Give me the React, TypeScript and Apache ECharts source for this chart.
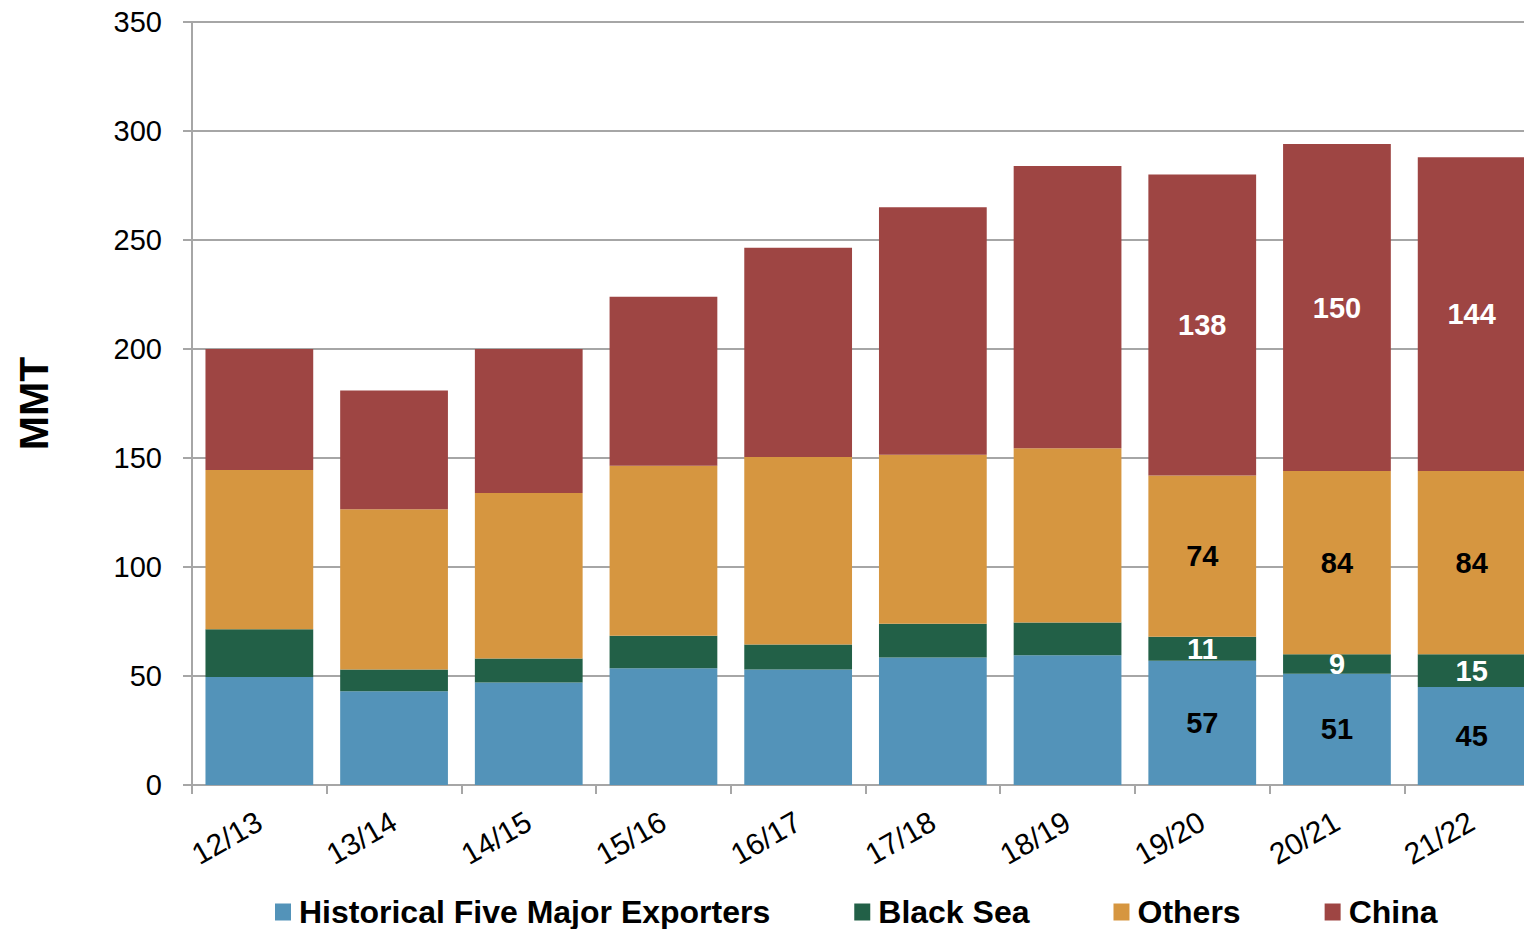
import React, { useEffect, useRef } from "react";
import * as echarts from "echarts";

const categories = ["12/13", "13/14", "14/15", "15/16", "16/17", "17/18", "18/19", "19/20", "20/21", "21/22"];
const historicalFive = [49.5, 43, 47, 53.5, 53, 58.5, 59.5, 57, 51, 45];
const blackSea = [22, 10, 11, 15, 11.5, 15.5, 15, 11, 9, 15];
const others = [73, 73.5, 76, 78, 86, 77.5, 80, 74, 84, 84];
const china = [55.5, 54.5, 66, 77.5, 96, 113.5, 129.5, 138, 150, 144];
const labelledSeasons = ["19/20", "20/21", "21/22"];
const yTicks = { min: 0, max: 350, interval: 50 };

const NARROW = "'Liberation Sans Narrow', 'Arial Narrow', 'Liberation Sans', Arial, sans-serif";
const ARIAL = "'Liberation Sans', Arial, sans-serif";

function makeSeries(name: string, values: number[], color: string, labelColor: string) {
  return {
    name,
    type: "bar",
    stack: "total",
    barWidth: "80%",
    itemStyle: { color },
    label: {
      show: false,
      position: "inside",
      color: labelColor,
      fontFamily: NARROW,
      fontWeight: "bold",
      fontSize: 29,
      formatter: (p: any) => String(Math.round(p.value)),
    },
    data: values.map((v, i) => ({
      value: v,
      label: { show: labelledSeasons.includes(categories[i]) },
    })),
  };
}

export default function App() {
  const ref = useRef<HTMLDivElement>(null);
  useEffect(() => {
    if (!ref.current) return;
    const chart = echarts.init(ref.current, undefined, { renderer: "svg" });
    chart.setOption({
      animation: false,
      backgroundColor: "#ffffff",
      grid: {
        left: 192,
        right: -15,
        top: 22,
        bottom: 144,
        containLabel: false,
        outerBoundsMode: "none",
      },
      legend: {
        left: 275,
        top: 896,
        padding: 0,
        itemWidth: 16,
        itemHeight: 17,
        itemGap: 84,
        icon: "rect",
        textStyle: {
          fontFamily: ARIAL,
          fontWeight: "bold",
          fontSize: 32,
          color: "#000",
          padding: [0, 0, 0, 3],
        },
        data: ["Historical Five Major Exporters", "Black Sea", "Others", "China"],
      },
      xAxis: {
        type: "category",
        data: categories,
        axisLine: { lineStyle: { color: "#a6a6a6", width: 2 } },
        axisTick: { show: true, length: 9, lineStyle: { color: "#a6a6a6", width: 2 } },
        axisLabel: {
          rotate: 30,
          margin: 34,
          fontFamily: ARIAL,
          fontSize: 30,
          color: "#000",
          interval: 0,
        },
      },
      yAxis: {
        type: "value",
        min: yTicks.min,
        max: yTicks.max,
        interval: yTicks.interval,
        name: "MMT",
        nameLocation: "middle",
        nameRotate: 90,
        nameGap: 138,
        nameTextStyle: { fontFamily: ARIAL, fontWeight: "bold", fontSize: 41, color: "#000" },
        axisLine: { show: true, lineStyle: { color: "#a6a6a6", width: 2 } },
        axisTick: { show: true, length: 9, lineStyle: { color: "#a6a6a6", width: 2 } },
        splitLine: { show: true, lineStyle: { color: "#a6a6a6", width: 2 } },
        axisLabel: { margin: 30, fontFamily: NARROW, fontSize: 29, color: "#000" },
      },
      series: [
        makeSeries("Historical Five Major Exporters", historicalFive, "#5393b9", "#000000"),
        makeSeries("Black Sea", blackSea, "#226047", "#ffffff"),
        makeSeries("Others", others, "#d69640", "#000000"),
        makeSeries("China", china, "#9e4543", "#ffffff"),
      ],
    });
    return () => chart.dispose();
  }, []);
  return (
    <div
      ref={ref}
      style={{ position: "absolute", left: 0, top: 0, width: 1524, height: 929, overflow: "hidden" }}
    />
  );
}
